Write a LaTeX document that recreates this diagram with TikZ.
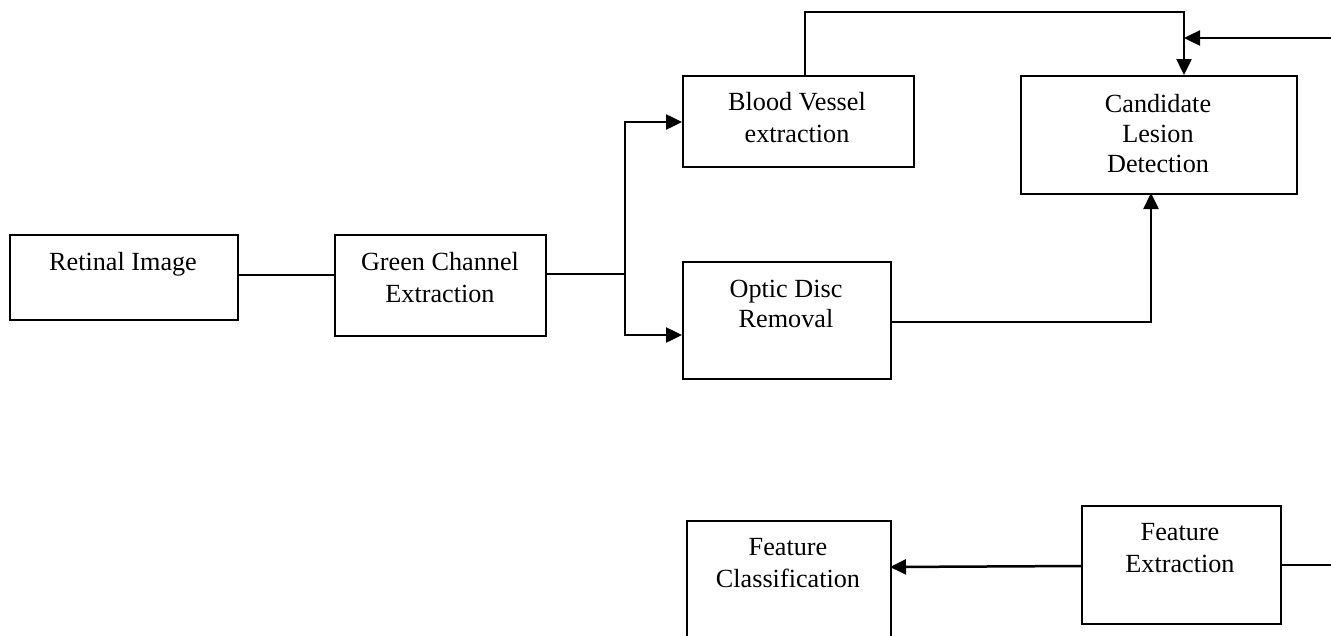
\documentclass[tikz,border=0pt]{standalone}
\usepackage{fontspec}
\setmainfont{Liberation Serif}
\usetikzlibrary{arrows.meta}
\begin{document}
\begin{tikzpicture}[x=1pt,y=-1pt,
  box/.style={draw,line width=2pt,inner sep=0pt,anchor=north west},
  txt/.style={inner sep=0pt,font=\fontsize{26.2}{31}\selectfont,anchor=base},
  wire/.style={line width=2.5pt},
  arr/.style={wire,-{Triangle[length=16pt,width=15pt]}}]
\useasboundingbox (0,0) rectangle (1331,635);
\clip (0,0) rectangle (1331,635);

% processing blocks
\node[box,minimum width=228pt,minimum height=85pt]  (ri) at (9,234)    {};
\node[box,minimum width=211pt,minimum height=101pt] (gc) at (334,234)  {};
\node[box,minimum width=231pt,minimum height=91pt]  (bv) at (682,75)   {};
\node[box,minimum width=276pt,minimum height=118pt] (cl) at (1020,75)  {};
\node[box,minimum width=208pt,minimum height=117pt] (od) at (682,261)  {};
\node[box,minimum width=204pt,minimum height=130pt] (fc) at (686,520)  {};
\node[box,minimum width=199pt,minimum height=118pt] (fe) at (1081,505) {};

% block captions
\node[txt] (riT1) at (123,270) {Retinal Image};
\node[txt] (gcT1) at (440,270) {Green Channel};
\node[txt] (gcT2) at (440,302) {Extraction};
\node[txt] (bvT1) at (797,110) {Blood Vessel};
\node[txt] (bvT2) at (797,142) {extraction};
\node[txt] (clT1) at (1158,112) {Candidate};
\node[txt] (clT2) at (1158,142) {Lesion};
\node[txt] (clT3) at (1158,172) {Detection};
\node[txt] (odT1) at (786,297) {Optic Disc};
\node[txt] (odT2) at (786,327) {Removal};
\node[txt] (fcT1) at (788,555) {Feature};
\node[txt] (fcT2) at (788,587) {Classification};
\node[txt] (feT1) at (1180,540) {Feature};
\node[txt] (feT2) at (1180,572) {Extraction};

% routing points
\coordinate (split) at (625,274);
\coordinate (bvIn)  at (682,122);
\coordinate (odIn)  at (682,335);
\coordinate (bvUp)  at (805,75);
\coordinate (topR)  at (1184,12);
\coordinate (clIn)  at (1184,75);
\coordinate (ext)   at (1331,38);
\coordinate (merge) at (1184,38);
\coordinate (odOut) at (890,322);
\coordinate (clUp)  at (1151,193);
\coordinate (feL)   at (1081,566);
\coordinate (fcR)   at (890,567);
\coordinate (feR)   at (1280,565);
\coordinate (edge)  at (1331,565);

% connectors
\draw[wire,line width=2pt] (ri.east |- 0,275) -- (gc.west |- 0,275);
\draw[wire,line width=2pt] (gc.east |- split) -- (split);
\draw[arr] (split) |- (bvIn);
\draw[arr] (split) |- (odIn);
\draw[arr] (bvUp) |- (topR) -- (clIn);
\draw[arr] (ext) -- (merge);
\draw[arr] (odOut) -| (clUp);
\draw[arr] (feL) -- (fcR);
\draw[wire,line width=2pt] (feR) -- (edge);
\end{tikzpicture}
\end{document}
